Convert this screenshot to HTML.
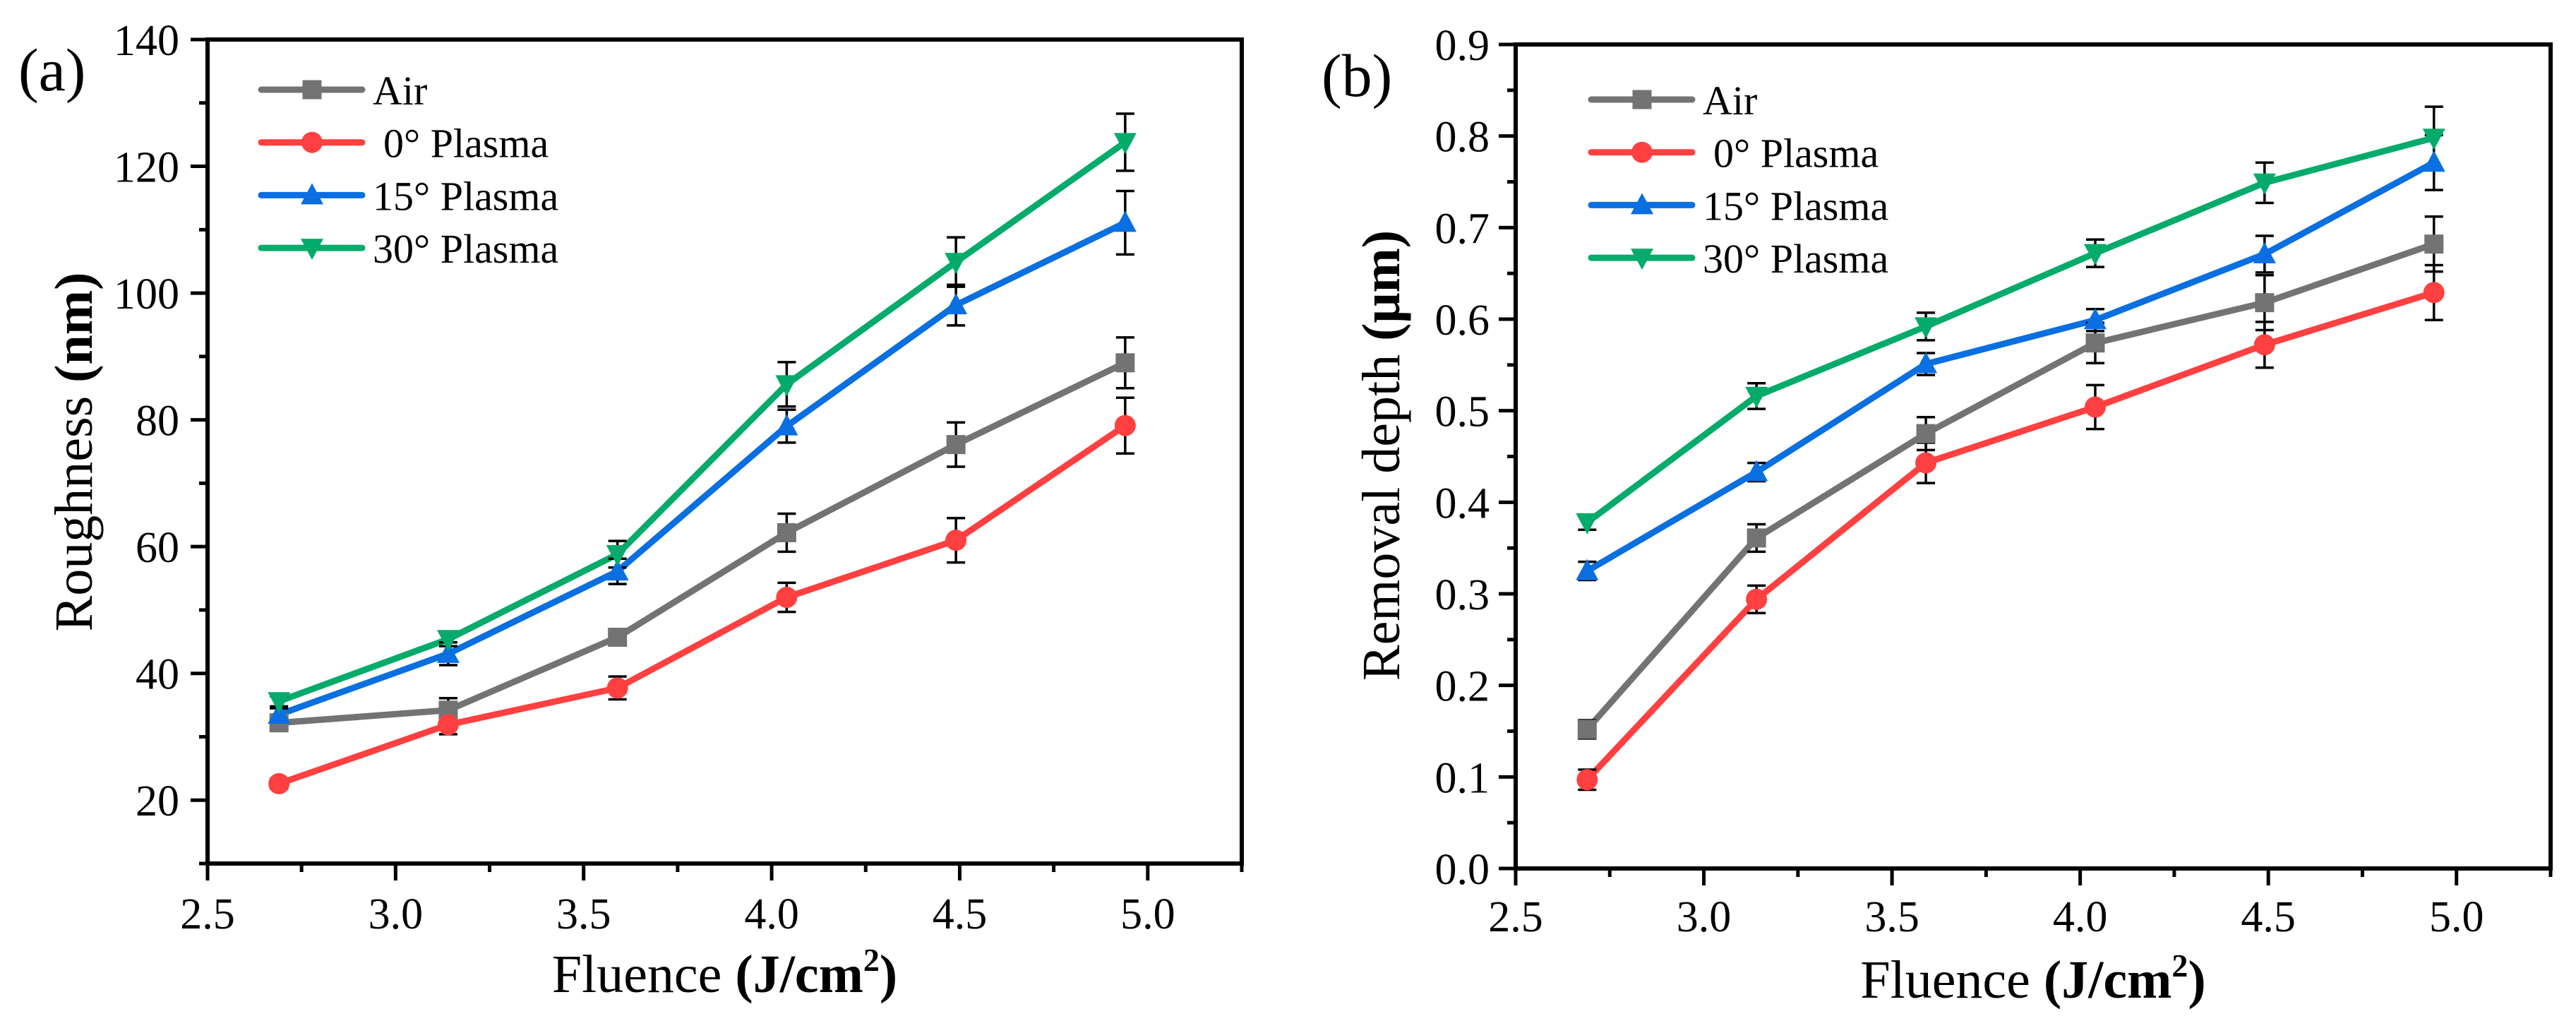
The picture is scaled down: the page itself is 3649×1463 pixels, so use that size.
<!DOCTYPE html>
<html><head><meta charset="utf-8"><style>
html,body{margin:0;padding:0;background:#fff;}
svg{display:block;}
text{font-family:"Liberation Serif","Times New Roman",serif;fill:#000;}
</style></head><body>
<svg id="fig" width="3649" height="1463" viewBox="0 0 3649 1463" xmlns="http://www.w3.org/2000/svg"></svg>
<script>
const xVals = [2.69, 3.14, 3.59, 4.04, 4.49, 4.94];
const seriesNames = ["Air", " 0° Plasma", "15° Plasma", "30° Plasma"];
const aAir = [32.2, 34.2, 45.7, 62.2, 76.1, 89.0];
const aAirErr = [1.2, 1.9, 1.1, 3.0, 3.5, 4.0];
const a0 = [22.6, 31.9, 37.7, 52.0, 61.0, 79.1];
const a0Err = [0.8, 1.5, 1.8, 2.3, 3.5, 4.4];
const a15 = [33.5, 43.1, 56.1, 79.0, 98.1, 111.1];
const a15Err = [1.0, 1.8, 2.0, 2.6, 3.2, 5.0];
const a30 = [35.6, 45.4, 58.8, 85.6, 104.9, 123.8];
const a30Err = [0.8, 1.1, 2.1, 3.5, 3.9, 4.5];
const bAir = [0.152, 0.361, 0.475, 0.574, 0.618, 0.682];
const bAirErr = [0.010, 0.015, 0.018, 0.022, 0.030, 0.030];
const b0 = [0.097, 0.294, 0.443, 0.504, 0.572, 0.629];
const b0Err = [0.011, 0.015, 0.022, 0.024, 0.025, 0.030];
const b15 = [0.325, 0.433, 0.551, 0.599, 0.671, 0.771];
const b15Err = [0.010, 0.010, 0.012, 0.012, 0.020, 0.030];
const b30 = [0.378, 0.516, 0.592, 0.672, 0.749, 0.798];
const b30Err = [0.008, 0.014, 0.015, 0.015, 0.022, 0.034];
const xTicks = ["2.5", "3.0", "3.5", "4.0", "4.5", "5.0"];
const aYTicks = ["20", "40", "60", "80", "100", "120", "140"];
const bYTicks = ["0.0", "0.1", "0.2", "0.3", "0.4", "0.5", "0.6", "0.7", "0.8", "0.9"];

const colors = ["#737373", "#ff4040", "#0a6fe0", "#04ab6a"];
const shapes = ["square", "circle", "up", "down"];
const NS = "http://www.w3.org/2000/svg";
const svg = document.getElementById("fig");

function mk(tag, attrs, parent) {
  const e = document.createElementNS(NS, tag);
  for (const k in attrs) e.setAttribute(k, attrs[k]);
  (parent || svg).appendChild(e);
  return e;
}
function marker(g, shape, cx, cy, color) {
  let m;
  if (shape === "square") m = mk("rect", {x: cx - 13.5, y: cy - 13.5, width: 27, height: 27, fill: color}, g);
  else if (shape === "circle") m = mk("circle", {cx: cx, cy: cy, r: 15, fill: color}, g);
  else if (shape === "up") m = mk("polygon", {points: `${cx},${cy - 17} ${cx - 16},${cy + 13} ${cx + 16},${cy + 13}`, fill: color}, g);
  else m = mk("polygon", {points: `${cx},${cy + 17} ${cx - 16},${cy - 13} ${cx + 16},${cy - 13}`, fill: color}, g);
  return m;
}

function panel(opt) {
  const {L, R, T, B, xmin, xmax, ymin, ymax, yTicks, yStep, yMinor, series, errs, id, label, labelX, labelY, legX, legY0, yTitle, yTitleBold, yTitleX, yTitleY, xLabY, xTitleY, yLabRight} = opt;
  const sx = v => L + (v - xmin) / (xmax - xmin) * (R - L);
  const sy = v => B - (v - ymin) / (ymax - ymin) * (B - T);
  const g = mk("g", {});
  
  

  series.forEach((ys, si) => {
    const pts = xVals.map((x, i) => sx(x) + "," + sy(ys[i])).join(" ");
    const pl = mk("polyline", {points: pts, fill: "none", stroke: colors[si], "stroke-width": 9, "stroke-linejoin": "round"}, g);
    
    
  });
  series.forEach((ys, si) => {
    xVals.forEach((x, i) => {
      const cx = sx(x), y1 = sy(ys[i] + errs[si][i]), y2 = sy(ys[i] - errs[si][i]);
      const eb = mk("path", {d: `M${cx},${y1}V${y2}M${cx - 13},${y1}H${cx + 13}M${cx - 13},${y2}H${cx + 13}`, stroke: "#000", "stroke-width": 3.5, fill: "none"}, g);
      
      
    });
  });
  series.forEach((ys, si) => {
    xVals.forEach((x, i) => {
      const m = marker(g, shapes[si], sx(x), sy(ys[i]), colors[si]);
      
      
    });
  });
  const fr = mk("rect", {x: L, y: T, width: R - L, height: B - T, fill: "none", stroke: "#000", "stroke-width": 6}, g);
  
  
  const xt = mk("g", {}, g);
  
  
  for (let v = xmin; v <= xmax + 1e-9; v += 0.25) {
    const major = Math.abs(v * 2 - Math.round(v * 2)) < 1e-6;
    mk("line", {x1: sx(v), x2: sx(v), y1: B, y2: B + (major ? 24 : 12), stroke: "#000", "stroke-width": 5}, xt);
  }
  xTicks.forEach(t => {
    const tx = mk("text", {x: sx(parseFloat(t)), y: xLabY, "font-size": 62, "text-anchor": "middle"}, xt);
    tx.textContent = t;
    
    
  });
  const yt = mk("g", {}, g);
  
  
  for (let v = ymin; v <= ymax + 1e-9; v += yMinor) {
    const major = Math.abs(v / yStep - Math.round(v / yStep)) < 1e-6;
    mk("line", {x1: L, x2: L - (major ? 24 : 12), y1: sy(v), y2: sy(v), stroke: "#000", "stroke-width": 5}, yt);
  }
  yTicks.forEach(t => {
    const tx = mk("text", {x: yLabRight, y: sy(parseFloat(t)) + 22, "font-size": 62, "text-anchor": "end"}, yt);
    tx.textContent = t;
    
    
  });
  const xtt = mk("text", {x: (L + R) / 2, y: xTitleY, "font-size": 76, "text-anchor": "middle"}, g);
  xtt.innerHTML = 'Fluence <tspan font-weight="bold">(J/cm<tspan font-size="46" dy="-30">2</tspan><tspan dy="30">)</tspan></tspan>';
  
  
  const ytt = mk("text", {x: yTitleX, y: yTitleY, "font-size": 76, "text-anchor": "middle", transform: `rotate(-90 ${yTitleX} ${yTitleY})`}, g);
  ytt.innerHTML = yTitle + ' <tspan font-weight="bold">' + yTitleBold + '</tspan>';
  
  
  const lab = mk("text", {x: labelX, y: labelY, "font-size": 86}, g);
  lab.textContent = label;
  
  
  const lg = mk("g", {}, g);
  
  
  seriesNames.forEach((n, si) => {
    const y = legY0 + si * 74.7;
    const e = mk("g", {}, lg);
    
    
    mk("line", {x1: legX, x2: legX + 143, y1: y, y2: y, stroke: colors[si], "stroke-width": 9, "stroke-linecap": "round"}, e);
    marker(e, shapes[si], legX + 72, y, colors[si]);
    const lead = n.startsWith(" ") ? 15 : 0;
    const tx = mk("text", {x: legX + 158 + lead, y: y + 21, "font-size": 58, "font-family": "Liberation Serif, serif"}, e);
    tx.textContent = n.trim();
  });
}

panel({id: "roughness", L: 294, R: 1759, T: 56, B: 1223, xmin: 2.5, xmax: 5.25, ymin: 10, ymax: 140,
  yTicks: aYTicks, yStep: 20, yMinor: 10,
  series: [aAir, a0, a15, a30], errs: [aAirErr, a0Err, a15Err, a30Err],
  label: "(a)", labelX: 26, labelY: 128, legX: 370, legY0: 127,
  yTitle: "Roughness", yTitleBold: "(nm)", yTitleX: 130, yTitleY: 640,
  xLabY: 1315, xTitleY: 1405, yLabRight: 254});
panel({id: "removal-depth", L: 2147, R: 3613, T: 63, B: 1230, xmin: 2.5, xmax: 5.25, ymin: 0, ymax: 0.9,
  yTicks: bYTicks, yStep: 0.1, yMinor: 0.05,
  series: [bAir, b0, b15, b30], errs: [bAirErr, b0Err, b15Err, b30Err],
  label: "(b)", labelX: 1872, labelY: 136, legX: 2254, legY0: 141,
  yTitle: "Removal depth", yTitleBold: "(μm)", yTitleX: 1982, yTitleY: 645,
  xLabY: 1319, xTitleY: 1413, yLabRight: 2110});
</script>
</body></html>
